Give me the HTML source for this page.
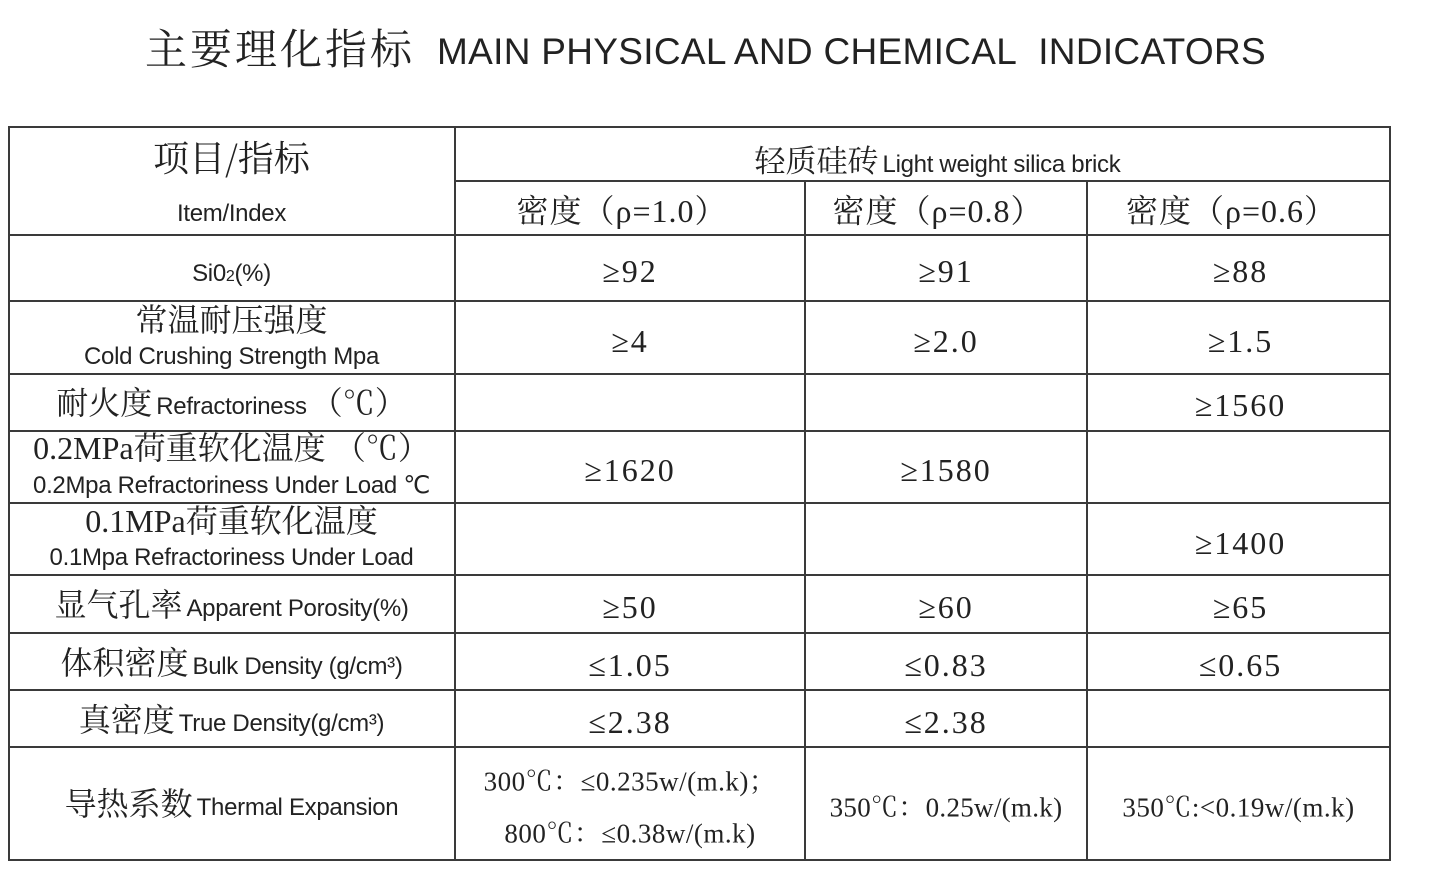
<!DOCTYPE html>
<html><head><meta charset="utf-8"><style>
body{margin:0;width:1450px;height:890px;background:#fff;position:relative;overflow:hidden;color:#222;}
.l{position:absolute;background:#3a3a3a;}
.t{position:absolute;text-align:center;white-space:nowrap;transform:translateY(-50%);line-height:1;}
.s{font-family:"Liberation Serif","Noto Serif CJK SC",serif;}
.a{font-family:"Liberation Sans","Noto Sans CJK SC",sans-serif;}
.c0{left:8px;width:447px}.c1{left:455px;width:350px}.c2{left:805px;width:282px}.c3{left:1087px;width:303px}
.n{font-family:"Liberation Serif","Noto Serif CJK SC",serif;font-size:32px;letter-spacing:2px;}
.e{font-family:"Liberation Sans",sans-serif;font-size:24px;letter-spacing:-0.3px;}
.z{font-family:"Noto Serif CJK SC",serif;font-size:32px;}
</style></head><body>
<div class="t" style="left:145px;top:48px;"><span class="z" style="font-size:42px;letter-spacing:3px">主要理化指标</span><span class="a" style="font-size:37px;margin-left:22px;letter-spacing:0.3px">MAIN PHYSICAL AND CHEMICAL&nbsp; INDICATORS</span></div>

<div class="l" style="left:8px;top:126px;width:1383px;height:2px"></div>
<div class="l" style="left:455px;top:180px;width:936px;height:2px"></div>
<div class="l" style="left:8px;top:234px;width:1383px;height:2px"></div>
<div class="l" style="left:8px;top:300px;width:1383px;height:2px"></div>
<div class="l" style="left:8px;top:373px;width:1383px;height:2px"></div>
<div class="l" style="left:8px;top:430px;width:1383px;height:2px"></div>
<div class="l" style="left:8px;top:502px;width:1383px;height:2px"></div>
<div class="l" style="left:8px;top:574px;width:1383px;height:2px"></div>
<div class="l" style="left:8px;top:632px;width:1383px;height:2px"></div>
<div class="l" style="left:8px;top:689px;width:1383px;height:2px"></div>
<div class="l" style="left:8px;top:746px;width:1383px;height:2px"></div>
<div class="l" style="left:8px;top:859px;width:1383px;height:2px"></div>
<div class="l" style="left:8px;top:126px;width:2px;height:735px"></div>
<div class="l" style="left:454px;top:126px;width:2px;height:735px"></div>
<div class="l" style="left:804px;top:180px;width:2px;height:681px"></div>
<div class="l" style="left:1086px;top:180px;width:2px;height:681px"></div>
<div class="l" style="left:1389px;top:126px;width:2px;height:735px"></div>

<div class="t c0 z" style="top:157px;font-size:36px">项目/指标</div>
<div class="t c0 e" style="top:214px">Item/Index</div>
<div class="t" style="left:470px;width:935px;top:160px"><span class="z" style="font-size:31px">轻质硅砖</span> <span class="e">Light weight silica brick</span></div>
<div class="t c1 n" style="top:211px;left:447px;letter-spacing:1px">密度（ρ=1.0）</div>
<div class="t c2 n" style="top:211px;left:797px;letter-spacing:1px">密度（ρ=0.8）</div>
<div class="t c3 n" style="top:211px;left:1080px;letter-spacing:1px">密度（ρ=0.6）</div>

<div class="t c0 e" style="top:274px">Si0<span style="font-size:16px">2</span>(%)</div>
<div class="t c1 n" style="top:271px">≥92</div><div class="t c2 n" style="top:271px">≥91</div><div class="t c3 n" style="top:271px;left:1089px">≥88</div>

<div class="t c0 z" style="top:318px">常温耐压强度</div>
<div class="t c0 e" style="top:357px">Cold Crushing Strength Mpa</div>
<div class="t c1 n" style="top:341px">≥4</div><div class="t c2 n" style="top:341px">≥2.0</div><div class="t c3 n" style="top:341px;left:1089px">≥1.5</div>

<div class="t c0" style="top:402px"><span class="z">耐火度</span> <span class="e">Refractoriness</span> <span class="z">（℃）</span></div>
<div class="t c3 n" style="top:405px;left:1089px">≥1560</div>

<div class="t c0" style="top:447px"><span class="n" style="letter-spacing:0">0.2MPa</span><span class="z">荷重软化温度 （℃）</span></div>
<div class="t c0 e" style="top:486px">0.2Mpa Refractoriness Under Load ℃</div>
<div class="t c1 n" style="top:470px">≥1620</div><div class="t c2 n" style="top:470px">≥1580</div>

<div class="t c0" style="top:520px"><span class="n" style="letter-spacing:0">0.1MPa</span><span class="z">荷重软化温度</span></div>
<div class="t c0 e" style="top:558px">0.1Mpa Refractoriness Under Load</div>
<div class="t c3 n" style="top:543px;left:1089px">≥1400</div>

<div class="t c0" style="top:604px"><span class="z">显气孔率</span> <span class="e">Apparent Porosity(%)</span></div>
<div class="t c1 n" style="top:607px">≥50</div><div class="t c2 n" style="top:607px">≥60</div><div class="t c3 n" style="top:607px;left:1089px">≥65</div>

<div class="t c0" style="top:662px"><span class="z">体积密度</span> <span class="e">Bulk Density (g/cm³)</span></div>
<div class="t c1 n" style="top:665px">≤1.05</div><div class="t c2 n" style="top:665px">≤0.83</div><div class="t c3 n" style="top:665px;left:1089px">≤0.65</div>

<div class="t c0" style="top:719px"><span class="z">真密度</span> <span class="e">True Density(g/cm³)</span></div>
<div class="t c1 n" style="top:722px">≤2.38</div><div class="t c2 n" style="top:722px">≤2.38</div>

<div class="t c0" style="top:803px"><span class="z">导热系数</span> <span class="e">Thermal Expansion</span></div>
<div class="t c1 n" style="top:782px;font-size:27px;letter-spacing:0.5px">300℃：≤0.235w/(m.k)；</div>
<div class="t c1 n" style="top:834px;font-size:27px;letter-spacing:0.5px">800℃：≤0.38w/(m.k)</div>
<div class="t c2 n" style="top:808px;font-size:27px;letter-spacing:0.3px">350℃：0.25w/(m.k)</div>
<div class="t c3 n" style="top:808px;font-size:27px;letter-spacing:0.5px">350℃:&lt;0.19w/(m.k)</div>
</body></html>
